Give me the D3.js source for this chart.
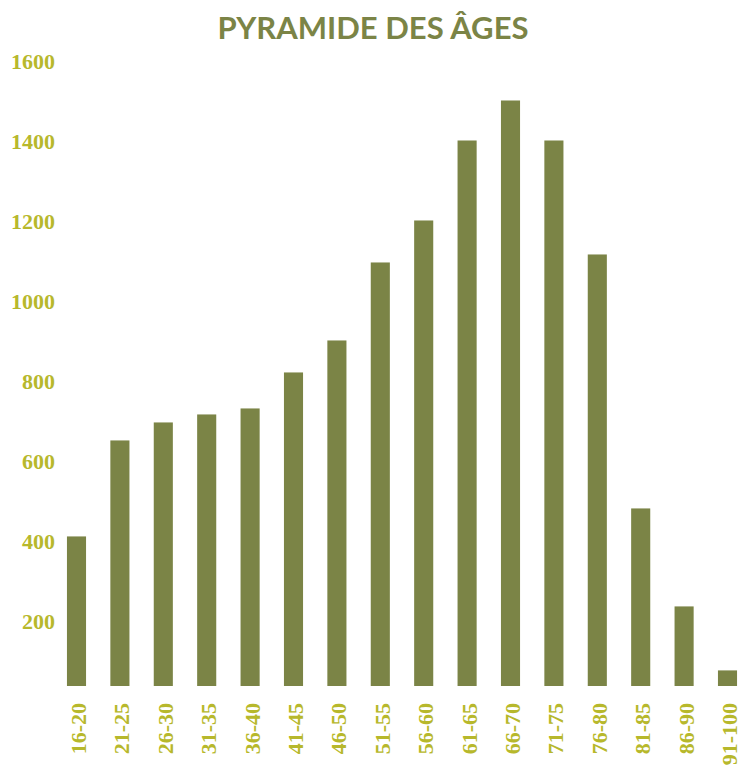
<!DOCTYPE html>
<html><head><meta charset="utf-8">
<script src="https://cdn.jsdelivr.net/npm/d3@7"></script>
<style>html,body{margin:0;padding:0;background:#fff;}</style>
</head><body>
<svg id="chart" width="740" height="768"></svg>
<script>
const categories = ["16-20","21-25","26-30","31-35","36-40","41-45","46-50","51-55","56-60","61-65","66-70","71-75","76-80","81-85","86-90","91-100"];
const values = [410,650,695,715,730,820,900,1095,1200,1400,1500,1400,1115,480,235,75];
const yTicks = [200,400,600,800,1000,1200,1400,1600];
const title = "PYRAMIDE DES ÂGES";

const barColor = "#7b8446";
const labelColor = "#b7b82c";

const svg = d3.select("#chart");
const x = d3.scaleBand().domain(categories).range([54.8, 749.2]).paddingInner(0.56).paddingOuter(0.28);
const y = d3.scaleLinear().domain([36, 1600]).range([686, 60.5]);

svg.append("text")
  .attr("x", 373).attr("y", 39)
  .attr("text-anchor", "middle")
  .attr("font-family", "Lato, 'DejaVu Sans', sans-serif")
  .attr("font-weight", "bold")
  .attr("font-size", 31)
  .attr("textLength", 311).attr("lengthAdjust", "spacingAndGlyphs")
  .attr("fill", barColor)
  .text(title);

svg.append("g").selectAll("rect").data(values).join("rect")
  .attr("x", (d,i) => x(categories[i]))
  .attr("width", x.bandwidth())
  .attr("y", d => y(d))
  .attr("height", d => y(36) - y(d))
  .attr("fill", barColor);

const yAxis = svg.append("g").attr("transform", "translate(55,0)")
  .call(d3.axisLeft(y).tickValues(yTicks).tickSize(0).tickPadding(0).tickFormat(d3.format("d")));
yAxis.select(".domain").remove();
yAxis.selectAll("text")
  .attr("font-family", "'Liberation Serif', 'Times New Roman', serif")
  .attr("font-weight", "bold").attr("font-size", 22)
  .attr("fill", labelColor).attr("dy", "0.35em");

const xAxis = svg.append("g").attr("transform", "translate(0,686)")
  .call(d3.axisBottom(x).tickSize(0).tickPadding(0));
xAxis.select(".domain").remove();
xAxis.selectAll("text")
  .attr("font-family", "'Liberation Serif', 'Times New Roman', serif")
  .attr("font-weight", "bold").attr("font-size", 22)
  .attr("fill", labelColor)
  .attr("text-anchor", "end")
  .attr("transform", "rotate(-90)")
  .attr("x", -17).attr("y", 1.5).attr("dy", "0.36em");
</script>
</body></html>
